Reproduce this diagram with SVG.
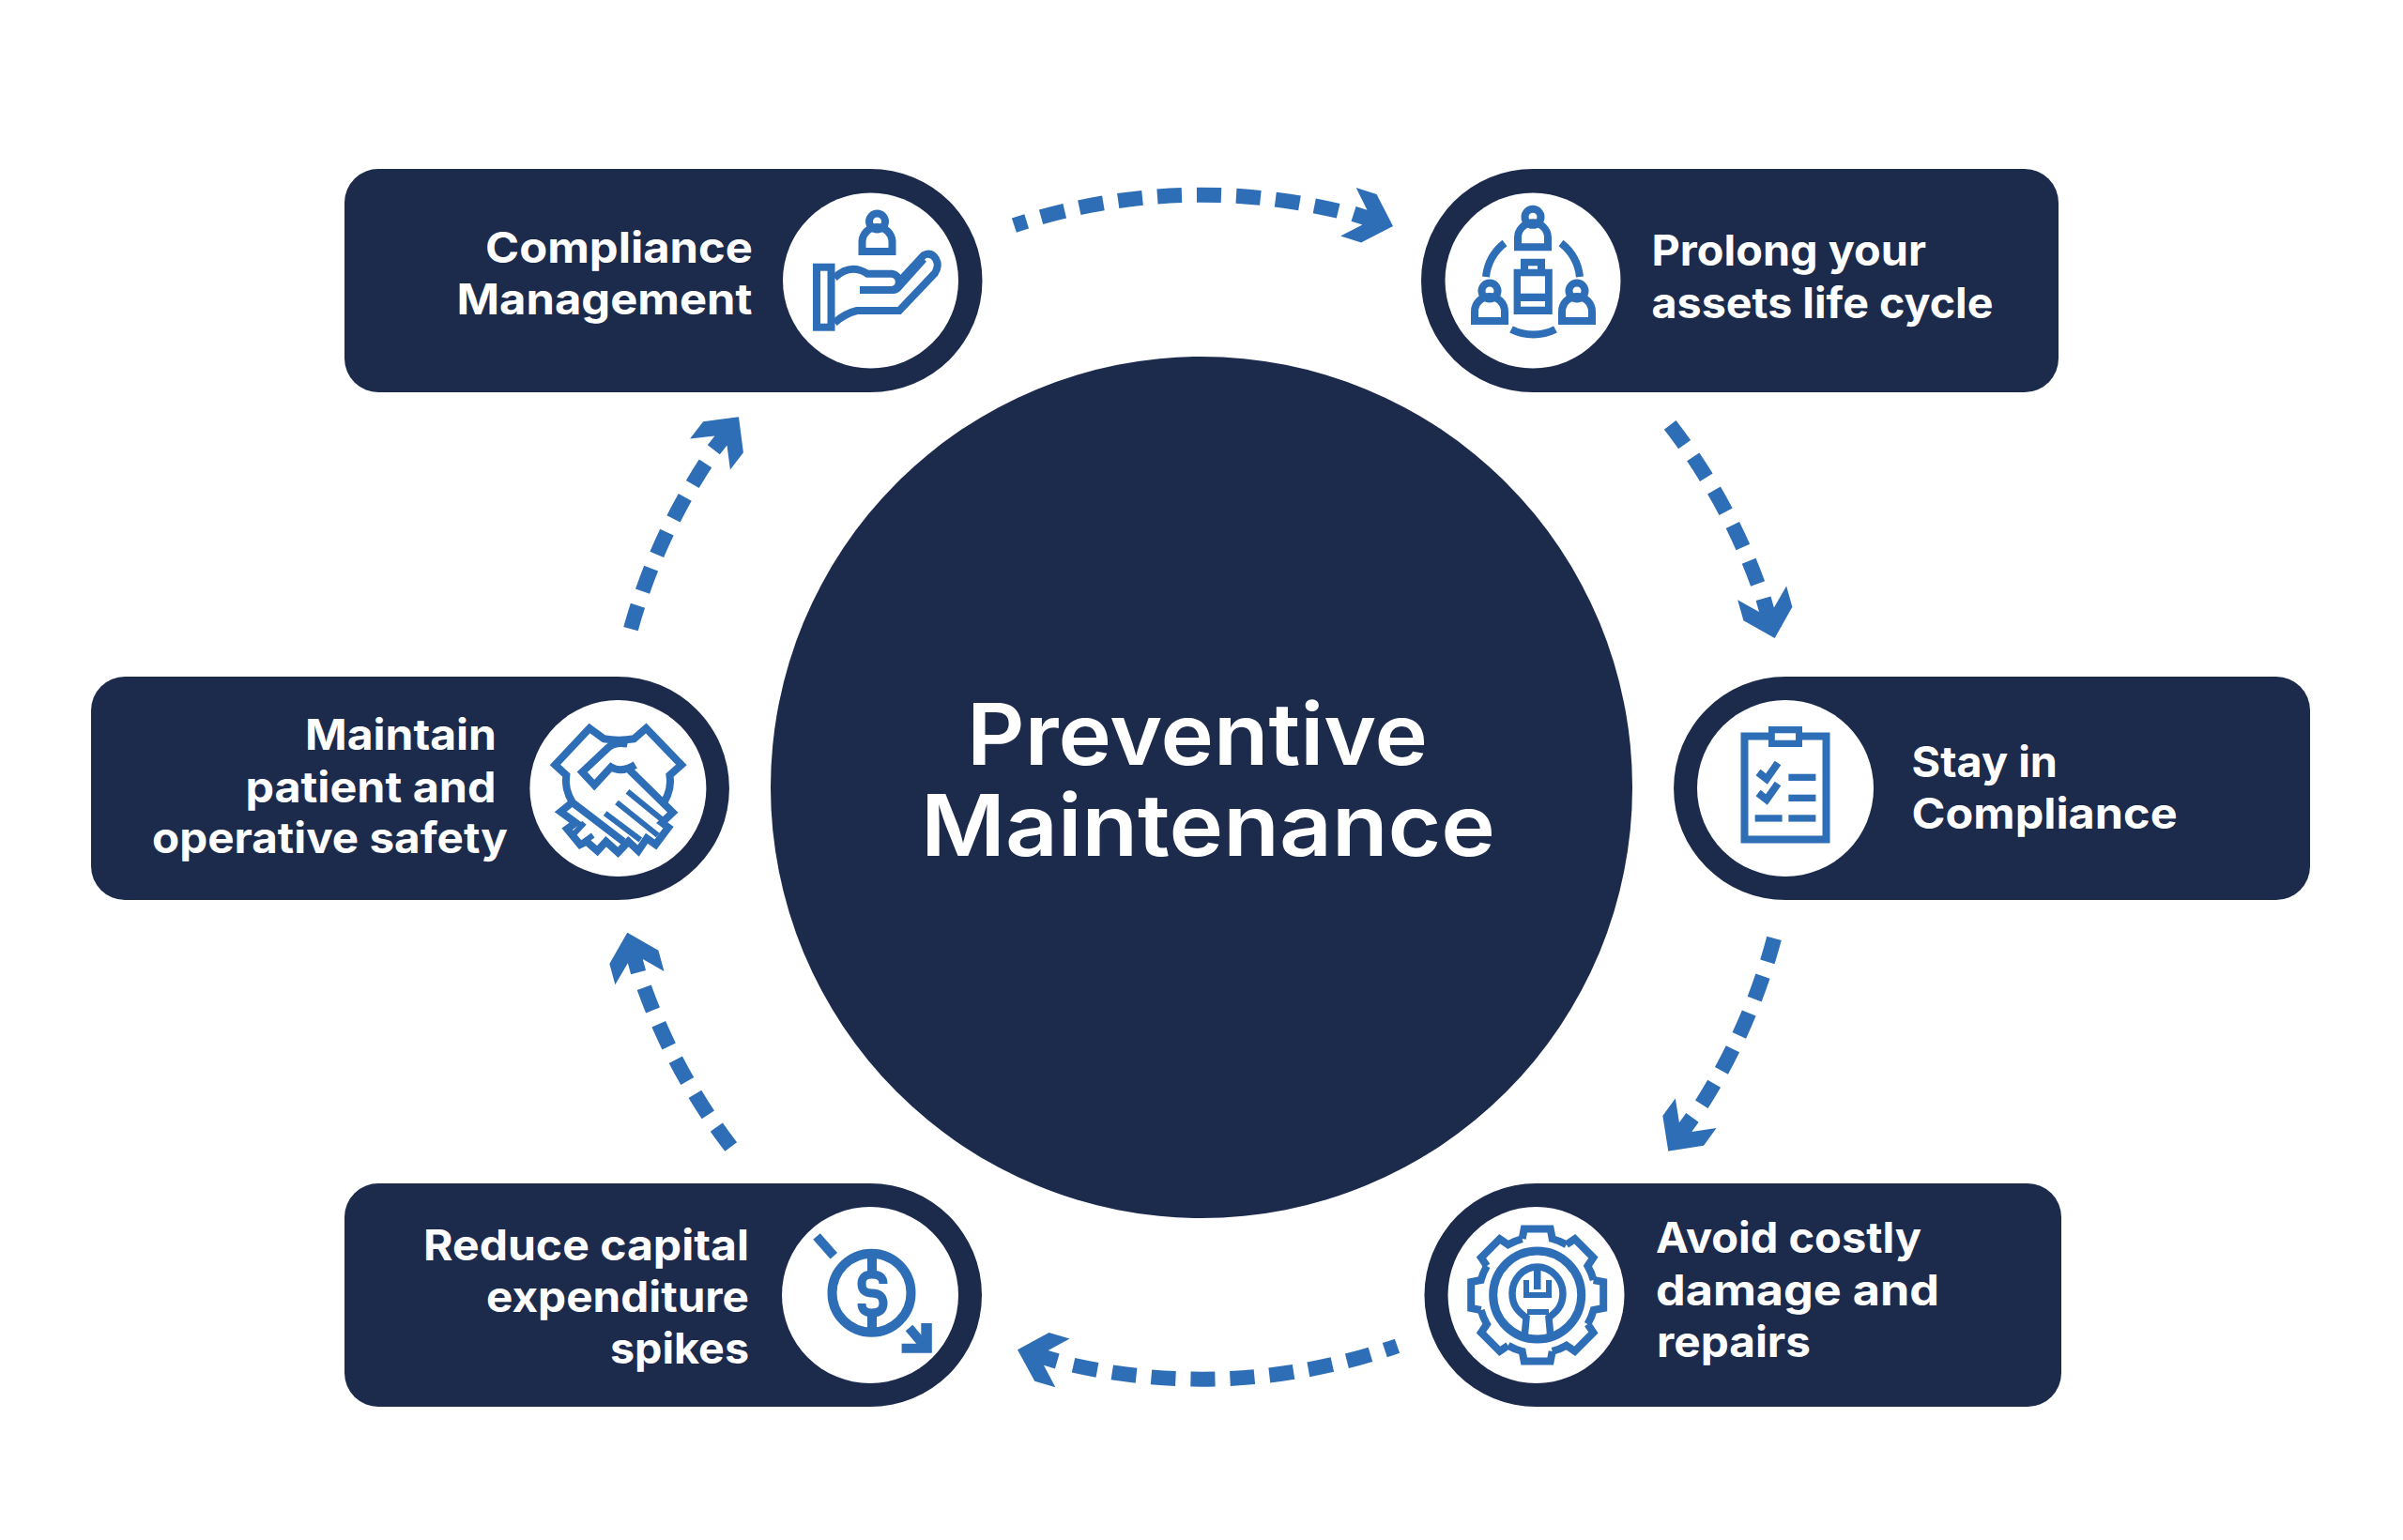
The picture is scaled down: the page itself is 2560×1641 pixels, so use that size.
<svg xmlns="http://www.w3.org/2000/svg" width="2560" height="1641" viewBox="0 0 2560 1641">
<style>
.navy{fill:#1c2a4c}
.hole{fill:#fff}
.t{font-family:Inter,"Liberation Sans",sans-serif;font-weight:700;font-size:45px;fill:#fff}
.c{font-size:91px;font-weight:600}
.i{fill:none;stroke:#2e6eb6;stroke-width:8;stroke-linejoin:miter}
.f{fill:#2e6eb6}
.dash{fill:none;stroke:#2e6eb6;stroke-width:16;stroke-dasharray:26 16}
</style>
<defs>
<path id="head" class="f" d="M0 0L-27 27H-50L-31.5 8.5H-44V-8H-31.5L-50 -27H-27Z"/>
<g id="person">
<circle class="i" cx="0" cy="-36" r="8.5"/>
<path class="i" d="M-16 -4H16V-14A16 16 0 0 0 -16 -14Z"/>
</g>
<path id="gt" class="i" d="M-16 -60L-14 -70.5H14L16 -60A62 62 0 0 1 31.1 -53.7"/>
</defs>
<rect width="2560" height="1641" fill="#fff"/>

<g id="connectors">
<path class="dash" stroke-dashoffset="12" d="M1080.4 240.1A631 631 0 0 1 1426.2 224.9"/>
<use href="#head" transform="translate(1484 241) rotate(17.8)"/>
<path class="dash" d="M1779.2 452.8A631 631 0 0 1 1872.9 622.9"/>
<use href="#head" transform="translate(1890.7 680) rotate(74.3)"/>
<path class="dash" d="M1890 999.9A631 631 0 0 1 1812.8 1176.8"/>
<use href="#head" transform="translate(1777.3 1226.7) rotate(126)"/>
<path class="dash" stroke-dashoffset="12" d="M1488.5 1434.2A631 631 0 0 1 1143.5 1454.7"/>
<use href="#head" transform="translate(1084 1438.3) rotate(196.4)"/>
<path class="dash" d="M778.7 1222A631 631 0 0 1 686.1 1051.9"/>
<use href="#head" transform="translate(668.3 993.8) rotate(254.8)"/>
<path class="dash" d="M672 670.1A631 631 0 0 1 752 493.2"/>
<use href="#head" transform="translate(787 444.3) rotate(307.6)"/>
</g>

<g id="center">
<circle class="navy" cx="1280" cy="839" r="459"/>
<text class="t c" x="1030" y="815" textLength="491" lengthAdjust="spacingAndGlyphs">Preventive</text>
<text class="t c" x="981" y="912" textLength="612" lengthAdjust="spacingAndGlyphs">Maintenance</text>
</g>

<g id="node-compliance-management">
<path class="navy" d="M404 180H927.5A119 119 0 0 1 927.5 418H404A36 36 0 0 1 367 382V216A36 36 0 0 1 404 180Z"/>
<circle class="hole" cx="927.5" cy="299" r="93.5"/>
<text class="t" x="517" y="280" textLength="285" lengthAdjust="spacingAndGlyphs">Compliance</text>
<text class="t" x="486.5" y="335" textLength="315" lengthAdjust="spacingAndGlyphs">Management</text>
<use href="#person" x="934.5" y="272"/>
<rect class="i" x="870" y="284.7" width="15.5" height="64"/>
<path class="i" d="M889 296Q906 280 924 291.7H950A8.7 8.7 0 0 1 950 309H916"/>
<path class="i" d="M960 298L984 272Q992 268 997 276Q1001 283 996 291L958 331H913Q900 334 889 344"/>
<path class="i" d="M951 309Q955 309 958 305L984 276"/>
</g>

<g id="node-prolong">
<path class="navy" d="M1633 180H2157A36 36 0 0 1 2193 216V382A36 36 0 0 1 2157 418H1633A119 119 0 0 1 1633 180Z"/>
<circle class="hole" cx="1633" cy="299" r="93.5"/>
<text class="t" x="1759.5" y="283" textLength="292.5" lengthAdjust="spacingAndGlyphs">Prolong your</text>
<text class="t" x="1759.5" y="339" textLength="364" lengthAdjust="spacingAndGlyphs">assets life cycle</text>
<use href="#person" x="1633" y="267.3"/>
<use href="#person" x="1587" y="346"/>
<use href="#person" x="1680" y="346"/>
<path class="f" d="M1620 275.7H1646V286.7H1653.8V335H1612.6V286.7H1620Z"/>
<rect class="hole" x="1620" y="294.3" width="26" height="18.4"/>
<rect class="hole" x="1620" y="321" width="26" height="5.7"/>
<rect class="hole" x="1628" y="283.3" width="10" height="3.4"/>
<path class="i" d="M1583 295A53 53 0 0 1 1603 259"/>
<path class="i" d="M1683 295A53 53 0 0 0 1663 259"/>
<path class="i" d="M1610 351A53 53 0 0 0 1657 351"/>
</g>

<g id="node-stay-in-compliance">
<path class="navy" d="M1902 721H2425A36 36 0 0 1 2461 757V923A36 36 0 0 1 2425 959H1902A119 119 0 0 1 1902 721Z"/>
<circle class="hole" cx="1902" cy="840" r="94"/>
<text class="t" x="2036.6" y="828" textLength="155.4" lengthAdjust="spacingAndGlyphs">Stay in</text>
<text class="t" x="2036.6" y="883" textLength="283" lengthAdjust="spacingAndGlyphs">Compliance</text>
<rect class="i" x="1858.5" y="784.5" width="87" height="110"/>
<rect class="f" x="1884" y="774" width="36" height="22"/>
<rect class="hole" x="1890.8" y="781.3" width="22.2" height="7.4"/>
<path class="i" d="M1873 823L1882 830L1894 813"/>
<path class="i" d="M1873 845L1882 852L1894 835"/>
<rect class="f" x="1905.4" y="824.7" width="29" height="7.3"/>
<rect class="f" x="1905.4" y="846.7" width="29" height="7.3"/>
<rect class="f" x="1905.4" y="868.3" width="29" height="7.3"/>
<rect class="f" x="1869.6" y="868.3" width="29" height="7.3"/>
</g>

<g id="node-avoid-damage">
<path class="navy" d="M1636.5 1261H2160A36 36 0 0 1 2196 1297V1463A36 36 0 0 1 2160 1499H1636.5A119 119 0 0 1 1636.5 1261Z"/>
<circle class="hole" cx="1636.5" cy="1380" r="94"/>
<text class="t" x="1764" y="1335" textLength="283" lengthAdjust="spacingAndGlyphs">Avoid costly</text>
<text class="t" x="1764" y="1390.5" textLength="302" lengthAdjust="spacingAndGlyphs">damage and</text>
<text class="t" x="1765" y="1445.5" textLength="164" lengthAdjust="spacingAndGlyphs">repairs</text>
<g transform="translate(1637.7 1380)">
<use href="#gt"/>
<use href="#gt" transform="rotate(45)"/>
<use href="#gt" transform="rotate(90)"/>
<use href="#gt" transform="rotate(135)"/>
<use href="#gt" transform="rotate(180)"/>
<use href="#gt" transform="rotate(225)"/>
<use href="#gt" transform="rotate(270)"/>
<use href="#gt" transform="rotate(315)"/>
<circle class="i" r="47" style="stroke-width:9"/>
</g>
<path class="i" style="stroke-width:7.5" d="M1637.7 1350C1622 1350 1611 1364 1611 1378C1611 1392 1618 1398 1626 1404L1624 1426M1637.7 1350C1653 1350 1665 1364 1665 1378C1665 1392 1658 1398 1650 1404L1652 1426"/>
<path class="i" style="stroke-width:6" d="M1627 1398H1650"/>
<path class="i" style="stroke-width:6" d="M1626 1364V1380H1650V1364"/>
<rect class="f" x="1634" y="1348" width="7.5" height="26"/>
</g>

<g id="node-reduce-capex">
<path class="navy" d="M404 1261H927A119 119 0 0 1 927 1499H404A36 36 0 0 1 367 1463V1297A36 36 0 0 1 404 1261Z"/>
<circle class="hole" cx="927" cy="1380" r="94"/>
<text class="t" x="451" y="1343" textLength="347" lengthAdjust="spacingAndGlyphs">Reduce capital</text>
<text class="t" x="518" y="1398" textLength="280" lengthAdjust="spacingAndGlyphs">expenditure</text>
<text class="t" x="650" y="1453" textLength="148" lengthAdjust="spacingAndGlyphs">spikes</text>
<circle class="i" cx="928.5" cy="1377.7" r="42" style="stroke-width:10"/>
<path class="i" style="stroke-width:9" d="M941 1368Q941 1358 929 1358Q918 1358 918 1368Q918 1378 929 1378Q941 1378 941 1389Q941 1399 929 1399Q918 1399 918 1389"/>
<rect class="f" x="924" y="1340" width="10" height="14"/>
<rect class="f" x="924" y="1402" width="10" height="14"/>
<path class="i" style="stroke-width:10" d="M870 1317.5L888.3 1338.3"/>
<path class="f" d="M992.8 1410V1441.7H960.6V1431.7H981.3V1410Z"/>
<path class="i" style="stroke-width:10" d="M968.5 1415L983 1432"/>
</g>

<g id="node-maintain-safety">
<path class="navy" d="M133 721H658A119 119 0 0 1 658 959H133A36 36 0 0 1 97 923V757A36 36 0 0 1 133 721Z"/>
<circle class="hole" cx="658.4" cy="840" r="94"/>
<text class="t" x="325" y="799" textLength="204" lengthAdjust="spacingAndGlyphs">Maintain</text>
<text class="t" x="261.5" y="855" textLength="267" lengthAdjust="spacingAndGlyphs">patient and</text>
<text class="t" x="162" y="909" textLength="379" lengthAdjust="spacingAndGlyphs">operative safety</text>
<path class="i" d="M609.7 855Q601 840 603.3 826L591.4 815L628 776L643.3 787.3Q659.3 790 675.4 787.3L688.3 776L725.9 815L713.5 826Q716 840 707.5 855"/>
<path class="i" d="M668.5 792.7Q655 790 648 796.7L620.3 822.7L633.2 836.7L651 817.3Q662 824 676.8 815"/>
<path class="i" d="M670.8 820.7L716.7 865.7L705.3 876.7L712 881.7L698.4 900L689 893.3L680 906.7L669.4 896.7L658.4 908.3L645.6 896.7L636.4 906.7L624.9 896.7L618 900L604.2 883.3L613.4 876.7L597.3 865L609.7 855L664 896.7"/>
<path class="i" style="stroke-width:6" d="M668.5 843.3L705.3 873.3M657 855L700.7 890M644.6 866.7L682.3 895M622.5 876.7L611.8 888.3M631.7 890L622.5 896.7"/>
</g>
</svg>
